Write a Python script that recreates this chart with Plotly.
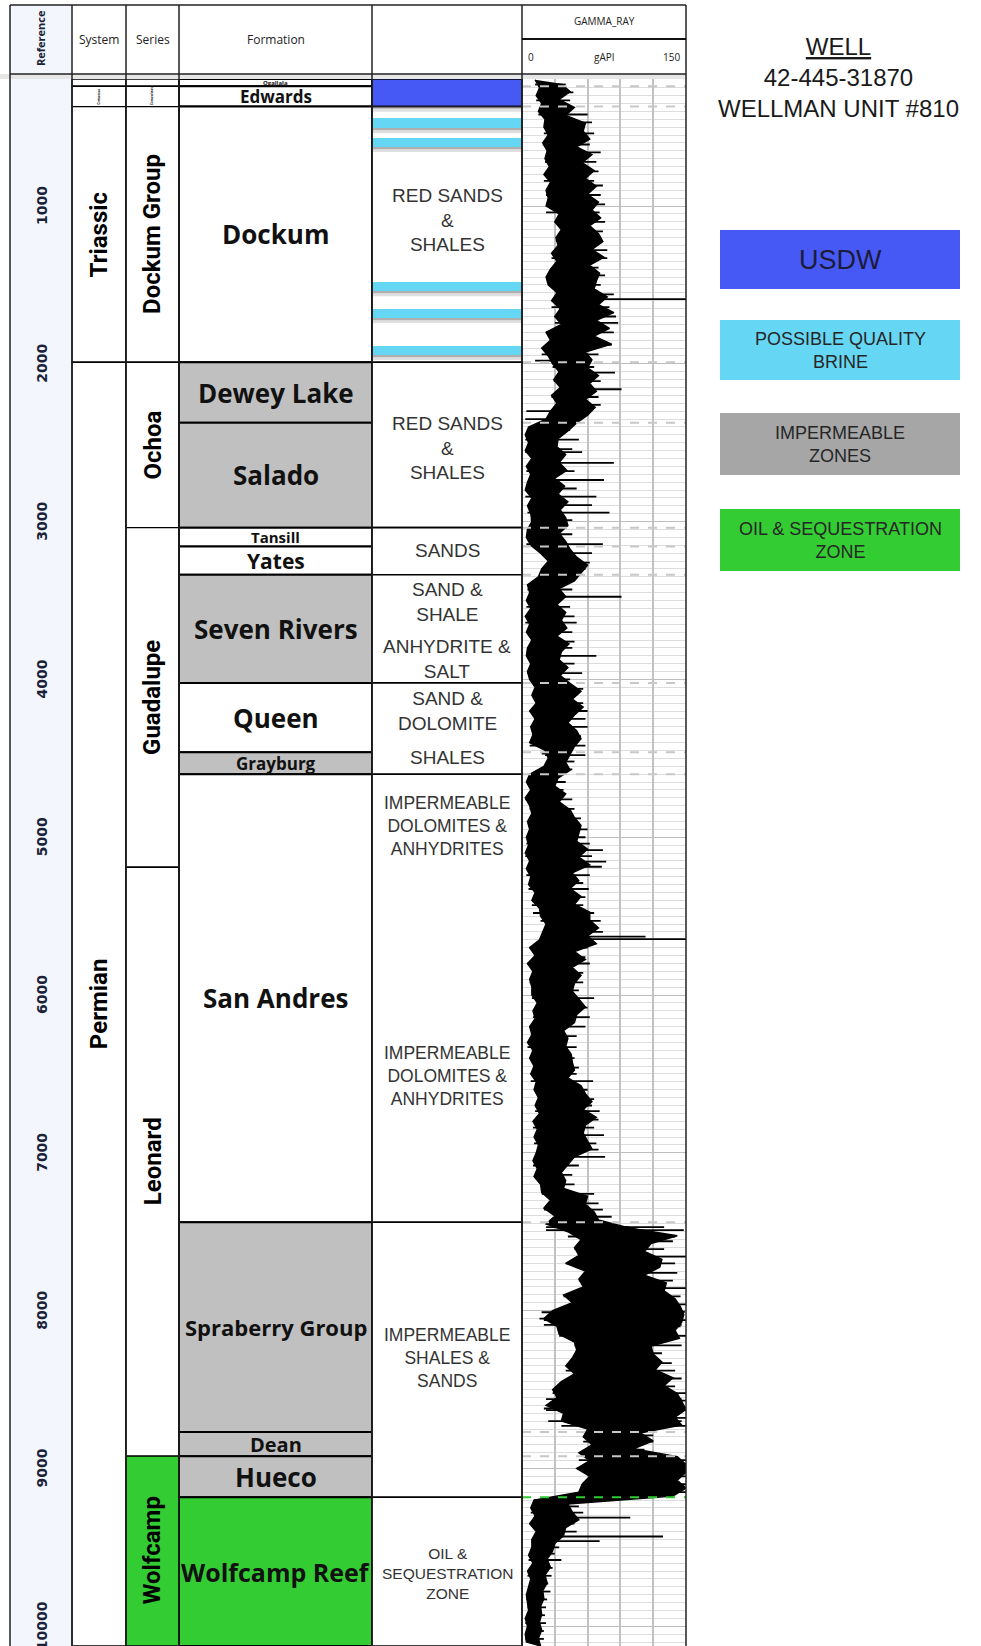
import plotly.graph_objects as go

W, H = 981, 1646

# ---------------------------------------------------------------- data
DEPTH_TOP = 195          # ft, top of the displayed log
DEPTH_BASE = 10125       # ft, bottom of the displayed log
DEPTH_LABELS = [1000, 2000, 3000, 4000, 5000, 6000, 7000, 8000, 9000, 10000]

SYSTEM_NAMES = ["", "Cretaceous", "Triassic", "Permian"]
SYSTEM_TOPS = [195, 241, 370, 1990]
SYSTEM_BASES = [241, 370, 1990, 10125]

SERIES_NAMES = ["", "Comanchean", "Dockum Group", "Ochoa", "Guadalupe", "Leonard", "Wolfcamp"]
SERIES_TOPS = [195, 241, 370, 1990, 3038, 5190, 8922]
SERIES_BASES = [241, 370, 1990, 3038, 5190, 8922, 10125]
SERIES_ZONE = ["plain", "plain", "plain", "plain", "plain", "plain", "target"]

FORMATION_NAMES = ["Ogallala", "Edwards", "Dockum", "Dewey Lake", "Salado", "Tansill",
                   "Yates", "Seven Rivers", "Queen", "Grayburg", "San Andres",
                   "Spraberry Group", "Dean", "Hueco", "Wolfcamp Reef"]
FORMATION_TOPS = [195, 241, 370, 1990, 2374, 3038, 3157, 3337, 4022, 4461, 4601,
                  7440, 8769, 8922, 9182]
FORMATION_BASES = [241, 370, 1990, 2374, 3038, 3157, 3337, 4022, 4461, 4601, 7440,
                   8769, 8922, 9182, 10125]
FORMATION_ZONE = ["plain", "plain", "plain", "impermeable", "impermeable", "plain",
                  "plain", "impermeable", "plain", "impermeable", "plain",
                  "impermeable", "impermeable", "impermeable", "target"]

LITH_TOPS = [195, 370, 1990, 3038, 3337, 4022, 4601, 7440, 9182]
LITH_BASES = [370, 1990, 3038, 3337, 4022, 4601, 7440, 9182, 10125]
LITH_ZONE = ["usdw", "plain", "plain", "plain", "plain", "plain", "plain", "plain", "plain"]

LITH_TEXT = ["RED SANDS\n&\nSHALES", "RED SANDS\n&\nSHALES", "SANDS",
             "SAND &\nSHALE", "ANHYDRITE &\nSALT", "SAND &\nDOLOMITE", "SHALES",
             "IMPERMEABLE\nDOLOMITES &\nANHYDRITES", "IMPERMEABLE\nDOLOMITES &\nANHYDRITES",
             "IMPERMEABLE\nSHALES &\nSANDS", "OIL &\nSEQUESTRATION\nZONE"]
LITH_TEXT_DEPTH = [1089, 2534, 3180, 3510, 3870, 4200, 4494, 4928, 6515, 8297, 9668]

BRINE_TOPS = [442, 569, 1482, 1653, 1887]
BRINE_BASES = [506, 626, 1539, 1710, 1944]

# Gamma ray (gAPI): low / high excursion of the curve in each 50 ft step from 200 ft
GR_START = 200
GR_STEP = 50
GR_LO = [
    12, 16, 13, 18, 15, 21,
    20, 24, 19, 23, 21, 25, 20, 26, 22, 24,
    22, 34, 30, 36, 31, 33, 27, 32, 26, 22,
    24, 32, 27, 35, 30, 36, 22, 26, 18, 24,
    28, 34, 29, 35, 27, 32, 26, 22, 6, 3,
    6, 3, 9, 4, 8, 5, 3, 9, 5, 8,
    9, 5, 4, 8, 17, 24, 18, 15, 5, 7,
    4, 8, 3, 7, 4, 9, 5, 4, 8, 5,
    7, 12, 9, 13, 7, 12, 8, 10, 7, 21,
    24, 20, 7, 4, 8, 3, 7, 9, 5, 7,
    4, 6, 3, 7, 4, 8, 6, 12, 9, 16,
    17, 22, 19, 16, 7, 12, 5, 10, 7, 9,
    9, 14, 10, 12, 7, 9, 5, 10, 7, 11,
    8, 13, 11, 15, 12, 16, 10, 14, 11, 15,
    13, 10, 14, 11, 17, 18, 26, 20, 30, 22,
    42, 54, 48, 52, 40, 58, 52, 56, 38, 46,
    28, 20, 32, 34, 48, 50, 46, 40, 48, 36,
    28, 32, 22, 38, 36, 60, 56, 64, 52, 62,
    50, 62, 55, 52, 11, 8, 12, 7, 13, 9,
    9, 6, 10, 5, 8, 6, 4, 5, 6, 3,
    5, 3, 4,
]
GR_HI = [
    36, 44, 34, 48, 40, 58,
    56, 62, 50, 64, 55, 66, 58, 68, 60, 70,
    64, 72, 62, 70, 74, 64, 75, 62, 71, 68,
    66, 78, 70, 84, 68, 80, 66, 82, 58, 64,
    60, 70, 62, 68, 58, 67, 60, 50, 42, 33,
    32, 40, 34, 41, 30, 39, 33, 42, 35, 40,
    42, 34, 40, 44, 50, 60, 54, 48, 34, 40,
    32, 40, 36, 41, 32, 43, 36, 34, 42, 35,
    44, 54, 46, 56, 48, 42, 50, 54, 48, 44,
    40, 44, 33, 30, 40, 34, 44, 48, 54, 52,
    50, 60, 52, 62, 46, 52, 44, 54, 48, 62,
    62, 70, 60, 68, 48, 58, 46, 54, 48, 46,
    52, 58, 50, 48, 38, 42, 40, 45, 46, 48,
    42, 54, 58, 64, 56, 68, 58, 56, 60, 64,
    48, 42, 36, 40, 38, 60, 58, 66, 70, 98,
    142, 118, 112, 128, 126, 112, 132, 130, 140, 145,
    148, 146, 140, 144, 118, 120, 128, 122, 138, 130,
    142, 146, 150, 140, 146, 108, 120, 102, 142, 150,
    150, 142, 150, 138, 42, 46, 52, 40, 38, 30,
    28, 23, 26, 21, 23, 19, 20, 17, 18, 16,
    18, 15, 17,
]
# sharp high readings (depth ft, gAPI)
SPIKE_DEPTH = [
    230, 280, 330, 420, 470, 540, 610, 660, 720, 780, 840, 870, 930, 990, 1040, 1100,
    1160, 1220, 1280, 1330, 1390, 1440, 1500, 1560, 1590, 1640, 1700, 1741, 1800, 1880,
    1940, 2020, 2056, 2110, 2161, 2210, 2260, 2330, 2420, 2480, 2540, 2560, 2627, 2680,
    2736, 2790, 2842, 2895, 2943, 2990, 3080, 3142, 3200, 3260, 3300, 3380, 3430, 3476,
    3540, 3600, 3640, 3700, 3760, 3800, 3850, 3900, 3960, 4000, 4060, 4150, 4200, 4250,
    4300, 4360, 4420, 4480, 4520, 4570, 4650, 4700, 4760, 4820, 4880, 4950, 5000, 5040,
    5081, 5120, 5155, 5187, 5240, 5290, 5328, 5380, 5430, 5480, 5530, 5567, 5600, 5630,
    5646, 5700, 5760, 5800, 5860, 5920, 5970, 6019, 6080, 6140, 6200, 6260, 6330, 6400,
    6460, 6500, 6545, 6600, 6660, 6700, 6735, 6790, 6840, 6887, 6940, 6980, 7025, 7080,
    7140, 7200, 7260, 7320, 7360, 7405, 7470, 7489, 7530, 7560, 7610, 7658, 7700, 7760,
    7810, 7857, 7910, 7960, 8007, 8060, 8100, 8160, 8220, 8270, 8332, 8380, 8430, 8480,
    8522, 8570, 8630, 8680, 8730, 8790, 8830, 8880, 8947, 9000, 9050, 9100, 9150, 9200,
    9240, 9280, 9311, 9350, 9400, 9431, 9460, 9500, 9540, 9580, 9630, 9680, 9730, 9780,
    9830, 9880, 9930, 9980, 10030, 10080,
]
SPIKE_GR = [
    40, 47, 44, 60, 64, 66, 62, 72, 68, 70, 66, 74, 72, 76, 71, 76,
    74, 72, 78, 78, 70, 76, 72, 84, 150, 80, 86, 88, 84, 82,
    70, 66, 85, 72, 91, 70, 72, 50, 44, 52, 46, 55, 84, 48,
    75, 50, 68, 64, 80, 46, 46, 74, 64, 62, 58, 44, 46, 91,
    44, 48, 50, 46, 48, 46, 68, 48, 55, 44, 56, 56, 60, 58,
    60, 54, 58, 58, 48, 46, 40, 38, 46, 48, 54, 60, 58, 62,
    74, 64, 77, 73, 62, 56, 61, 58, 56, 66, 72, 68, 74, 113,
    150, 60, 58, 62, 56, 56, 52, 66, 60, 62, 58, 50, 50, 48,
    52, 50, 65, 60, 66, 64, 71, 70, 66, 75, 68, 70, 76, 52,
    46, 48, 66, 70, 74, 82, 130, 148, 140, 138, 130, 150, 140, 142,
    138, 150, 145, 150, 149, 150, 145, 150, 146, 128, 137, 140, 146, 140,
    150, 150, 150, 150, 150, 120, 120, 112, 150, 150, 150, 150, 150, 50,
    52, 56, 99, 48, 50, 129, 71, 34, 30, 36, 28, 27, 24, 26,
    23, 22, 21, 22, 20, 20,
]
# sharp low readings (depth ft, gAPI)
DIP_DEPTH = [1980, 2300, 2350, 4470, 5480, 7470, 8010, 8050, 8090, 8560, 8620, 8700]
DIP_GR = [12, 4, 3, 18, 10, 30, 18, 16, 20, 22, 20, 24]

LEGEND_LABELS = ["USDW", "POSSIBLE QUALITY\nBRINE", "IMPERMEABLE\nZONES",
                 "OIL & SEQUESTRATION\nZONE"]
TITLE_LINES = ["<u>WELL</u>", "42-445-31870", "WELLMAN UNIT #810"]

# ---------------------------------------------------------------- styles
COL = dict(ref=(10, 72), system=(72, 126), series=(126, 179), formation=(179, 372),
           lith=(372, 522), gamma=(522, 686))
HEADER_TOP, HEADER_BOT, DATA_TOP = 5, 74, 79
FILL = {"plain": "white", "impermeable": "#c0c0c0", "target": "#33cc33",
        "usdw": "#4759f5", "brine": "#66d6f5", "legend_gray": "#a6a6a6"}
REF_BG = "#f3f7fd"
FORMATION_SIZE = [6, 17, 26, 26, 26, 15, 21, 26, 26, 17, 26, 22, 20, 26, 25]
BOLD_FONT = "Open Sans"
SERIES_FONT = "Roboto"
ARIAL = "Liberation Sans"


def px(x):
    return x / W


def py(y):
    return 1 - y / H


fig = go.Figure()
shapes, notes = [], []


def note(**kw):
    kw.setdefault("showarrow", False)
    kw.setdefault("xanchor", "center")
    kw.setdefault("yanchor", "middle")
    notes.append(kw)


def step_index(d):
    return min(max(int((d - GR_START) // GR_STEP), 0), len(GR_LO) - 1)


# ---------------------------------------------------------------- gamma ray curve
# solid body of the curve: right edge down the high readings, left edge back up the lows
body_depth = [GR_START + i * GR_STEP + GR_STEP / 2 for i in range(len(GR_HI))]
body_depth += [GR_START + i * GR_STEP for i in range(len(GR_LO))][::-1]
body_gr = list(GR_HI) + list(GR_LO)[::-1]
fig.add_trace(go.Scatter(x=body_gr, y=body_depth, xaxis="x2", yaxis="y2", mode="lines",
                         fill="toself", fillcolor="black",
                         line=dict(color="black", width=1.4),
                         hoverinfo="skip", showlegend=False))

# single-sample readings drawn as hair lines out of the body
sx, sy = [], []
for d, v in zip(SPIKE_DEPTH, SPIKE_GR):
    sx += [GR_LO[step_index(d)], v, None]
    sy += [d, d, None]
for d, v in zip(DIP_DEPTH, DIP_GR):
    sx += [GR_HI[step_index(d)], v, None]
    sy += [d, d, None]
fig.add_trace(go.Scatter(x=sx, y=sy, xaxis="x2", yaxis="y2", mode="lines",
                         line=dict(color="black", width=1.8),
                         hoverinfo="skip", showlegend=False))

# formation tops across the gamma track
for top, zone in zip(FORMATION_TOPS[1:], FORMATION_ZONE[1:]):
    shapes.append(dict(type="line", xref="x2", yref="y2", x0=0, x1=150, y0=top, y1=top,
                       line=dict(color="#2ecc2e" if zone == "target" else "#c8c8c8",
                                 width=2, dash="dash"), layer="above"))


# ---------------------------------------------------------------- helpers
def cell(col, top, base, fill, width=1.6):
    x0, x1 = COL[col]
    shapes.append(dict(type="rect", xref="x", yref="y", x0=x0, x1=x1, y0=top, y1=base,
                       fillcolor=fill, line=dict(color="black", width=width), layer="above"))


# ---------------------------------------------------------------- reference column
x0, x1 = COL["ref"]
shapes.append(dict(type="rect", xref="x", yref="y", x0=x0, x1=x1, y0=DEPTH_TOP, y1=DEPTH_BASE,
                   fillcolor=REF_BG, line=dict(width=0), layer="below"))
for d in DEPTH_LABELS:
    note(x=(x0 + x1) / 2 + 1, y=d, xref="x", yref="y", text=f"<b>{d}</b>", textangle=-90,
         font=dict(family="DejaVu Sans", size=14, color="#1b2238"))

# ---------------------------------------------------------------- stratigraphic columns
for name, top, base in zip(SYSTEM_NAMES, SYSTEM_TOPS, SYSTEM_BASES):
    cell("system", top, base, "white", 1.4)
    if name:
        small = base - top < 300
        note(x=sum(COL["system"]) / 2, y=(top + base) / 2, xref="x", yref="y",
             text=f"<b>{name}</b>", textangle=-90,
             font=dict(family=SERIES_FONT, size=3 if small else 24, color="black"))

for name, top, base, zone in zip(SERIES_NAMES, SERIES_TOPS, SERIES_BASES, SERIES_ZONE):
    cell("series", top, base, FILL[zone], 1.4)
    if name:
        small = base - top < 300
        note(x=sum(COL["series"]) / 2, y=(top + base) / 2, xref="x", yref="y",
             text=f"<b>{name}</b>", textangle=-90,
             font=dict(family=SERIES_FONT, size=3 if small else 24, color="black"))

for name, top, base, zone, size in zip(FORMATION_NAMES, FORMATION_TOPS, FORMATION_BASES,
                                       FORMATION_ZONE, FORMATION_SIZE):
    cell("formation", top, base, FILL[zone], 2)
    note(x=sum(COL["formation"]) / 2, y=(top + base) / 2, xref="x", yref="y",
         text=f"<b>{name}</b>", font=dict(family=BOLD_FONT, size=size, color="#111111"))

# ---------------------------------------------------------------- lithology column
for top, base, zone in zip(LITH_TOPS, LITH_BASES, LITH_ZONE):
    cell("lith", top, base, FILL[zone], 1.6)
lx0, lx1 = COL["lith"]


def drop_shadow(base):
    shapes.append(dict(type="rect", xref="x", yref="y", x0=lx0 + 1, x1=lx1 - 1, y0=base,
                       y1=base + 14, fillcolor="#6e6e6e", opacity=0.55,
                       line=dict(width=0), layer="above"))
    shapes.append(dict(type="rect", xref="x", yref="y", x0=lx0 + 1, x1=lx1 - 1, y0=base + 14,
                       y1=base + 32, fillcolor="#b0b0b0", opacity=0.4,
                       line=dict(width=0), layer="above"))


drop_shadow(LITH_BASES[0])
for top, base in zip(BRINE_TOPS, BRINE_BASES):
    shapes.append(dict(type="rect", xref="x", yref="y", x0=lx0 + 1, x1=lx1 - 1, y0=top, y1=base,
                       fillcolor=FILL["brine"], line=dict(width=0), layer="above"))
    drop_shadow(base)

for text, depth in zip(LITH_TEXT, LITH_TEXT_DEPTH):
    size = 15.5 if "SEQUESTRATION" in text else (17.5 if "IMPERMEABLE" in text else 19)
    note(x=(lx0 + lx1) / 2, y=depth, xref="x", yref="y", text=text.replace("\n", "<br>"),
         font=dict(family=ARIAL, size=size, color="#333333"))

# ---------------------------------------------------------------- column frame + header
gx0, gx1 = COL["gamma"]
edges = [COL["ref"][0]] + [COL[k][1] for k in ["ref", "system", "series", "formation", "lith", "gamma"]]
shapes.append(dict(type="rect", xref="paper", yref="paper", x0=px(COL["ref"][0]), x1=px(COL["ref"][1]),
                   y0=py(HEADER_BOT), y1=py(HEADER_TOP), fillcolor=REF_BG, line=dict(width=0),
                   layer="below"))
shapes.append(dict(type="rect", xref="paper", yref="paper", x0=0, x1=px(gx1 + 1),
                   y0=py(DATA_TOP), y1=py(HEADER_BOT), fillcolor="#e6e6e6", line=dict(width=0)))
for x in edges:
    shapes.append(dict(type="line", xref="paper", yref="paper", x0=px(x), x1=px(x),
                       y0=py(HEADER_TOP), y1=0, line=dict(color="#222222", width=1.5)))
for y in (HEADER_TOP, HEADER_BOT):
    shapes.append(dict(type="line", xref="paper", yref="paper", x0=px(edges[0]), x1=px(edges[-1]),
                       y0=py(y), y1=py(y), line=dict(color="#222222", width=1.5)))
shapes.append(dict(type="line", xref="paper", yref="paper", x0=px(gx0), x1=px(gx1),
                   y0=py(39), y1=py(39), line=dict(color="#111111", width=2.2)))

note(x=px(sum(COL["ref"]) / 2), y=py(38), xref="paper", yref="paper",
     text="<b>Reference</b>", textangle=-90,
     font=dict(family=BOLD_FONT, size=11, color="#1b2238"))
for key, label in [("system", "System"), ("series", "Series"), ("formation", "Formation")]:
    note(x=px(sum(COL[key]) / 2), y=py(39), xref="paper", yref="paper", text=label,
         font=dict(family=BOLD_FONT, size=12, color="#222222"))
note(x=px((gx0 + gx1) / 2), y=py(21), xref="paper", yref="paper", text="GAMMA_RAY",
     font=dict(family=BOLD_FONT, size=10, color="#222222"))
for x, label, anchor in [(gx0 + 4, "0", "left"), ((gx0 + gx1) / 2, "gAPI", "center"),
                         (gx1 - 4, "150", "right")]:
    note(x=px(x), y=py(57), xref="paper", yref="paper", text=label, xanchor=anchor,
         font=dict(family=BOLD_FONT, size=10, color="#222222"))

# ---------------------------------------------------------------- well title and legend
note(x=px(838), y=py(78), xref="paper", yref="paper", text="<br>".join(TITLE_LINES),
     font=dict(family=ARIAL, size=24, color="#1a1a1a"))

legend_fill = [FILL["usdw"], FILL["brine"], FILL["legend_gray"], FILL["target"]]
legend_rows = [(230, 289), (320, 380), (413, 475), (509, 571)]
for label, color, (y0, y1) in zip(LEGEND_LABELS, legend_fill, legend_rows):
    shapes.append(dict(type="rect", xref="paper", yref="paper", x0=px(720), x1=px(960),
                       y0=py(y1), y1=py(y0), fillcolor=color, line=dict(width=0)))
    big = label == "USDW"
    note(x=px(840), y=py((y0 + y1) / 2), xref="paper", yref="paper",
         text=label.replace("\n", "<br>"),
         font=dict(family=ARIAL, size=27 if big else 18, color="#1c1c3a" if big else "#262626"))

# ---------------------------------------------------------------- layout
domain_y = [0, 1 - DATA_TOP / H]
depth_range = [DEPTH_BASE, DEPTH_TOP]
tick_axis = dict(overlaying="y", anchor="free", range=depth_range, showline=True,
                 linecolor="#222222", linewidth=1.5, ticks="inside", ticklen=7, tickwidth=1.5,
                 tickcolor="#222222", tick0=0, dtick=1000, showticklabels=False,
                 showgrid=False, zeroline=False,
                 minor=dict(ticks="inside", ticklen=4, tickwidth=1.2, tickcolor="#222222",
                            tick0=0, dtick=100, showgrid=False))

fig.update_layout(
    width=W, height=H, margin=dict(l=0, r=0, t=0, b=0),
    paper_bgcolor="white", plot_bgcolor="white", showlegend=False,
    xaxis=dict(domain=[0, 1], range=[0, W], visible=False),
    yaxis=dict(domain=domain_y, range=depth_range, visible=False),
    xaxis2=dict(domain=[px(gx0), px(gx1)], range=[0, 150], anchor="y2", showgrid=True,
                gridcolor="#c2c2c2", gridwidth=1.5, tick0=0, dtick=30, showticklabels=False,
                ticks="", zeroline=False, showline=False),
    yaxis2=dict(domain=domain_y, range=depth_range, anchor="x2", showgrid=True,
                gridcolor="#bdbdbd", gridwidth=1, tick0=0, dtick=1000,
                minor=dict(tick0=0, dtick=50, showgrid=True, gridcolor="#dddddd", gridwidth=1),
                showticklabels=False, ticks="", zeroline=False),
    yaxis3=dict(tick_axis, position=px(COL["ref"][0]), side="left"),
    yaxis4=dict(tick_axis, position=px(COL["ref"][1]), side="right"),
    shapes=shapes, annotations=notes,
)

fig.write_html("out.html")
